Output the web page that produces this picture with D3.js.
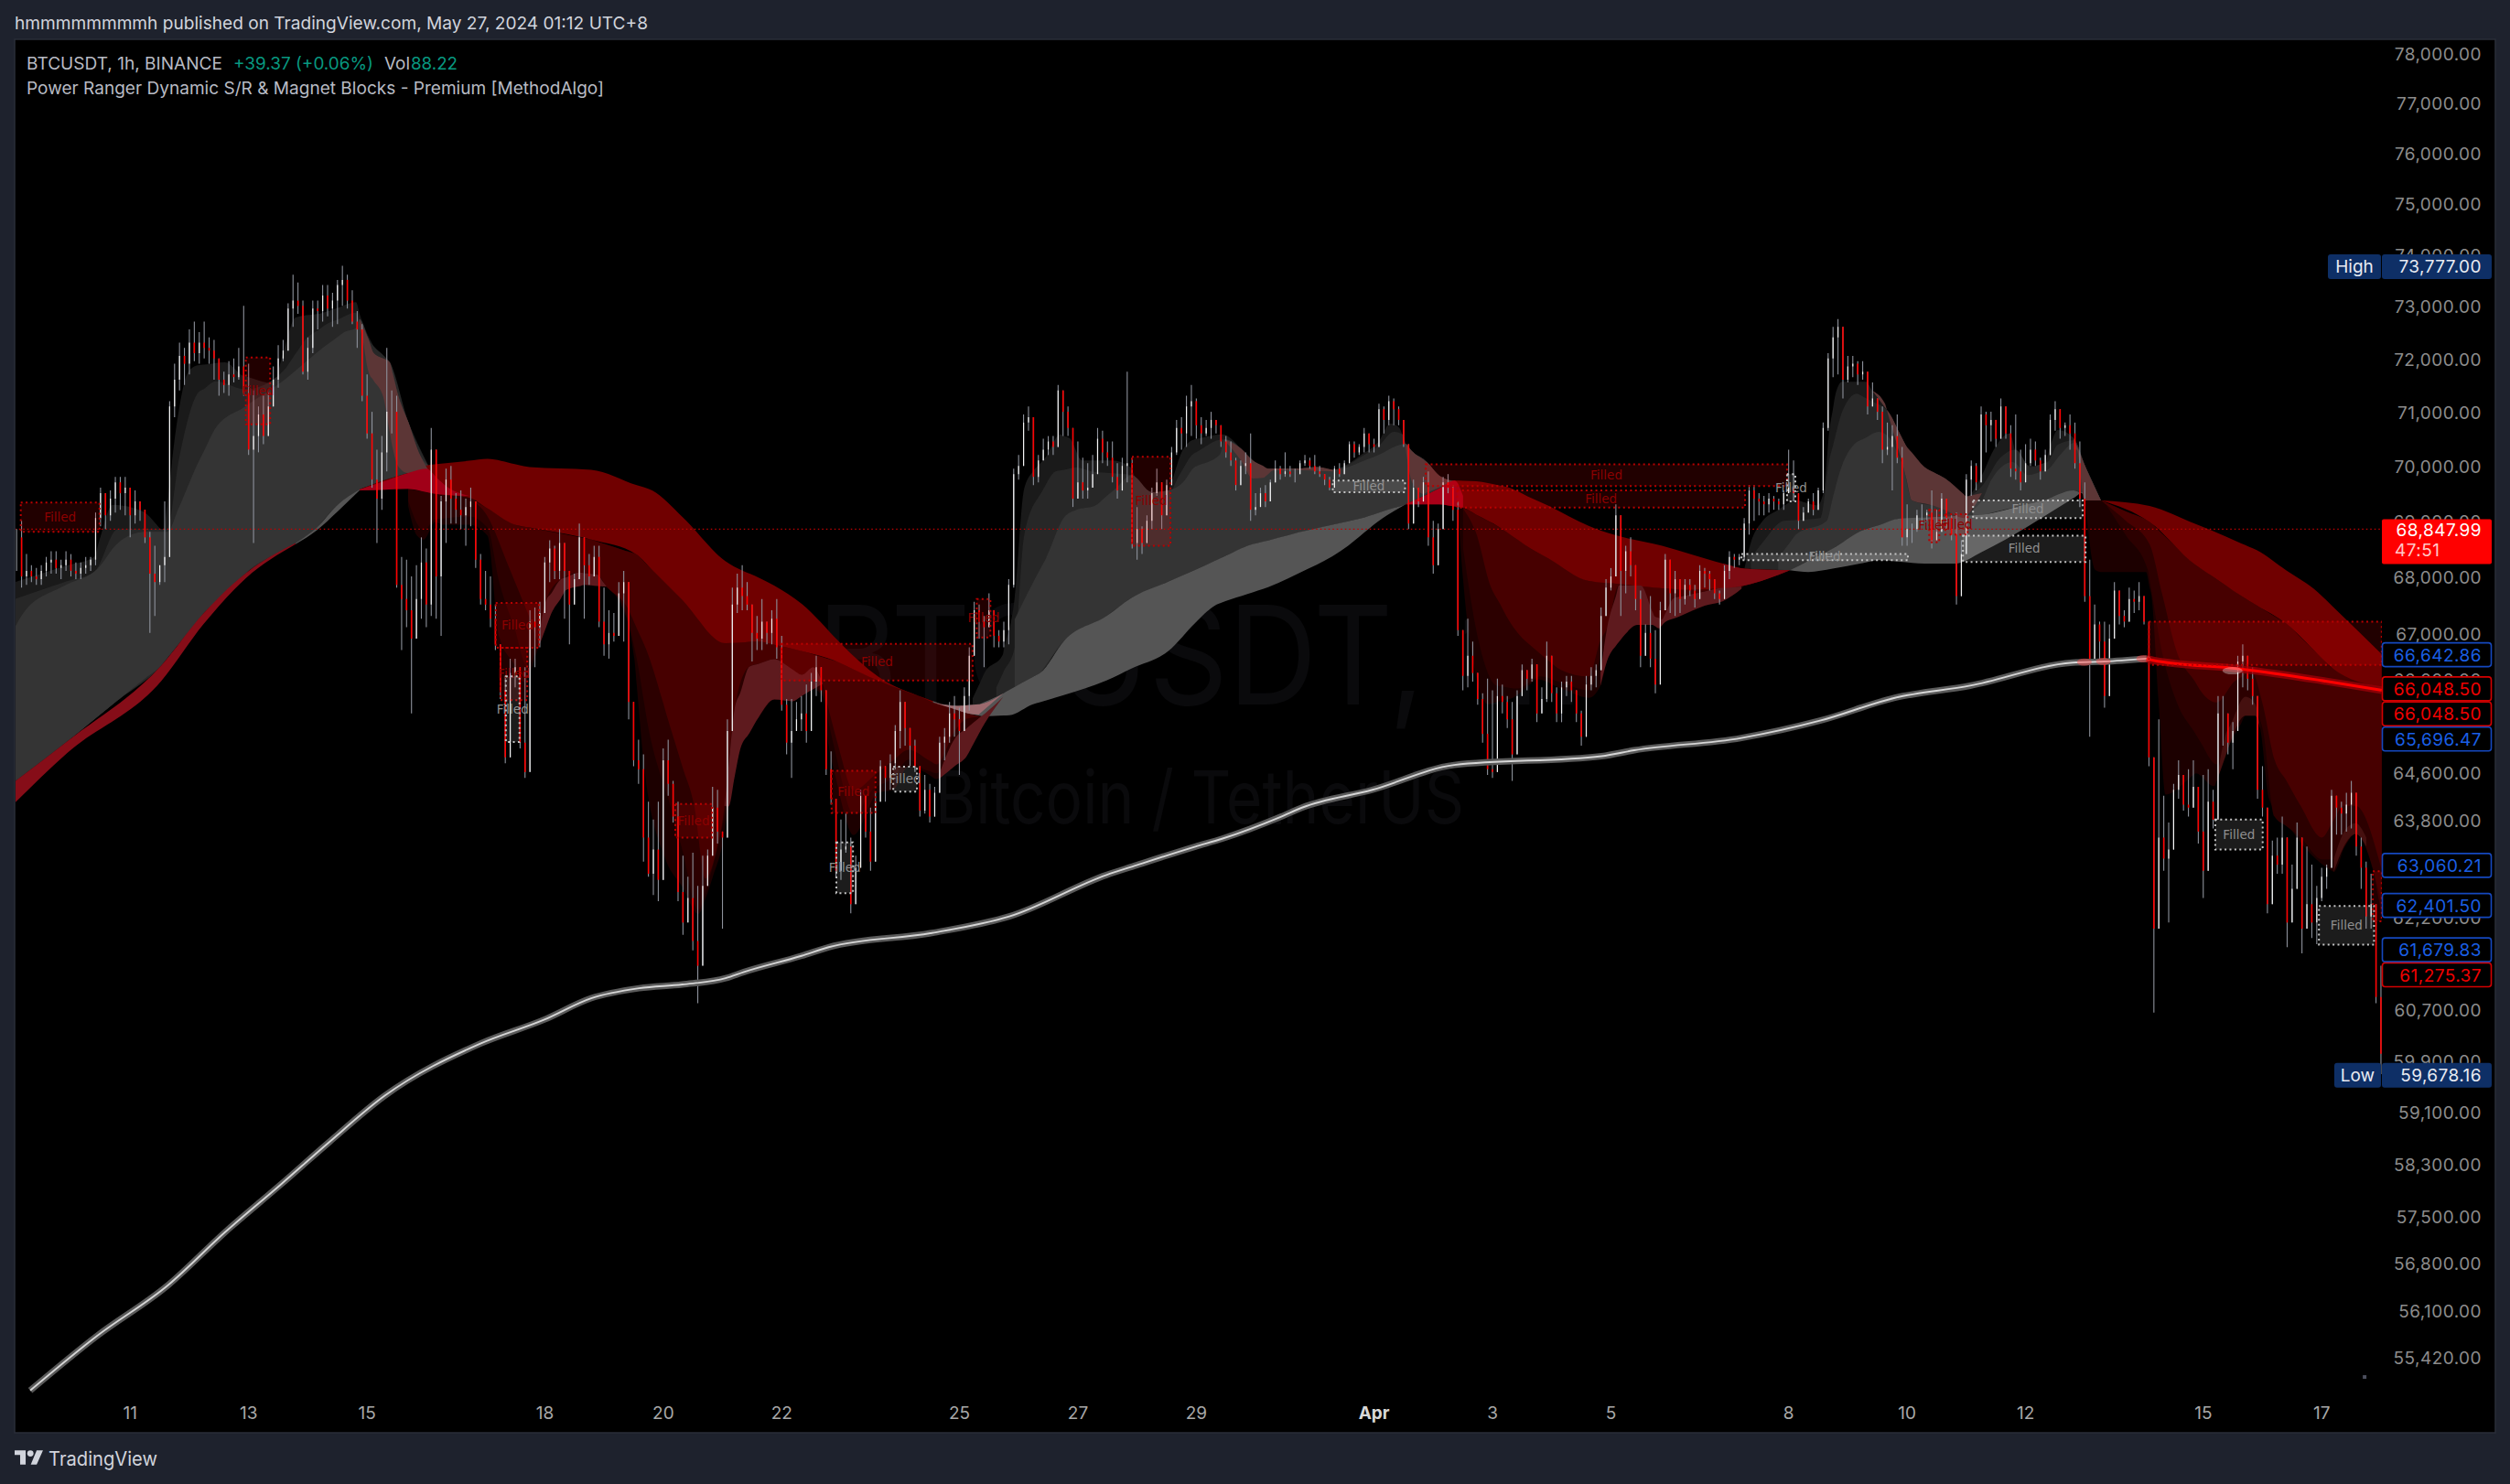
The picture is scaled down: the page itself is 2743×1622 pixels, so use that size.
<!DOCTYPE html>
<html><head><meta charset="utf-8">
<script src="https://cdn.jsdelivr.net/npm/d3@7"></script>
<style>html,body{margin:0;padding:0;background:#1e222d}svg{display:block}text{font-family:Inter,Roboto,"Noto Sans",sans-serif}</style>
</head><body><svg id="c" width="2743" height="1622"></svg>
<script>
// All prices are in thousands of USDT; all days count from Mar 1 (Apr 1 = 32).
const priceTicks=[78000,77000,76000,75000,74000,73000,72000,71000,70000,69000,68000,67000,66200,65400,64600,63800,63000,62200,61400,60700,59900,59100,58300,57500,56800,56100,55420];
const dayTicks=[11,13,15,18,20,22,25,27,29,32,34,36,39,41,43,46,48];
const dayLabels=['11','13','15','18','20','22','25','27','29','Apr','3','5','8','10','12','15','17'];
const candleStartDay=9.09, candleStepDays=1/12;
const candleHigh=[
68.85,69.0,68.4,68.2,68.15,68.2,68.35,68.45,68.45,68.3,68.45,68.4,68.25,68.25,68.35,68.35,69.15,69.6,69.35,69.55,
69.8,69.8,69.8,69.6,69.55,69.35,69.2,68.8,68.55,68.2,69.35,71.2,71.9,72.3,72.2,72.55,72.7,72.5,72.7,72.4,
72.35,72.0,71.75,71.95,72.0,72.2,73.0,71.9,71.4,71.1,71.3,71.35,71.85,72.25,72.35,73.05,73.6,73.45,73.1,72.4,
73.1,73.1,73.4,73.4,73.25,73.5,73.77,73.6,73.3,72.9,72.65,71.7,71.0,70.3,70.55,72.2,71.4,71.3,68.35,68.3,
68.0,68.2,68.7,68.5,70.7,70.2,69.45,69.95,70.0,69.5,69.55,69.4,69.6,69.1,68.4,68.1,68.0,67.5,66.75,66.25,
66.55,66.55,66.2,66.4,67.4,67.45,67.55,68.35,68.65,68.55,68.85,68.4,67.8,68.05,68.95,68.45,68.4,68.55,68.55,67.8,
67.4,67.35,67.9,68.1,67.0,65.8,65.15,64.9,64.1,63.8,64.1,65.0,65.15,64.45,64.1,63.2,62.85,63.25,62.7,63.2,
63.3,64.35,64.3,63.55,65.5,67.8,68.05,68.2,67.9,67.35,67.3,67.6,67.1,67.4,67.6,66.95,65.85,65.85,65.8,65.9,
66.1,66.3,66.6,66.35,65.85,64.95,63.9,63.8,63.9,63.5,63.2,64.3,64.2,64.0,64.25,64.8,64.6,64.9,65.4,66.0,
65.65,65.35,65.15,64.65,64.55,64.4,64.35,65.2,65.35,65.8,65.9,65.7,66.05,66.75,67.55,67.5,67.3,67.7,67.3,67.05,
67.2,67.95,69.95,70.2,70.95,71.1,70.65,70.2,70.5,70.55,70.55,71.5,71.2,71.1,70.65,70.45,70.15,70.05,70.2,70.7,
70.65,70.45,70.45,70.05,70.15,71.75,70.15,69.25,68.9,69.1,69.6,69.95,69.6,69.75,70.35,70.85,70.9,71.3,71.5,71.25,
70.9,70.85,71.0,70.85,70.75,70.55,70.45,70.15,70.1,70.25,70.6,69.5,69.6,69.65,69.75,70.1,70.0,70.25,70.0,69.95,
70.1,70.2,70.15,70.2,70.0,69.85,69.8,70.0,70.05,70.1,70.45,70.45,70.4,70.7,70.6,70.5,71.15,71.1,71.3,71.25,
71.1,70.8,70.35,69.75,69.6,69.8,69.9,69.0,68.95,69.8,69.85,69.65,69.35,66.9,67.25,66.85,66.25,65.95,66.2,66.0,
66.2,66.1,65.9,65.8,66.0,66.45,66.35,66.55,66.15,66.05,66.85,66.55,66.05,66.15,66.25,66.25,65.9,65.65,66.25,66.4,
66.45,67.45,67.95,68.15,69.3,68.5,68.55,68.7,68.1,67.75,67.15,67.65,67.05,67.55,68.4,68.15,68.1,67.8,67.95,67.95,
67.85,68.2,68.15,68.1,67.85,67.75,68.2,68.45,68.4,68.4,69.05,69.65,69.65,69.5,69.45,69.5,69.45,69.4,69.55,70.3,
70.1,69.35,69.25,69.4,69.5,69.6,70.8,72.1,72.6,72.75,71.95,72.05,72.05,71.95,71.95,71.6,71.55,71.25,71.1,70.8,
70.75,70.95,70.35,69.3,68.95,69.2,69.3,69.2,69.55,69.2,69.5,69.2,69.1,69.15,68.65,69.85,70.1,70.05,71.1,71.0,
71.0,70.8,71.25,71.0,70.75,70.95,70.3,70.4,70.5,70.45,70.15,70.3,70.95,71.2,70.95,70.8,70.95,70.8,70.45,69.7,
68.3,67.5,67.2,67.2,67.15,67.9,67.5,67.4,67.8,67.75,67.9,67.45,67.2,64.85,65.5,64.2,63.75,64.4,64.8,64.5,
64.65,64.8,64.35,64.55,64.65,64.3,65.9,65.9,65.55,65.45,66.6,66.8,66.6,66.4,65.85,64.7,63.6,63.45,63.5,63.85,
63.4,63.05,63.75,63.45,63.35,63.05,62.7,63.0,63.05,64.3,64.2,64.1,64.25,64.45,63.9,63.5,63.1,62.9,61.6,61.4];
const candleLow=[
68.1,67.8,67.85,67.9,67.85,67.85,68.0,68.05,68.05,67.95,68.1,68.0,67.95,67.95,68.05,68.1,68.2,68.9,68.85,69.0,
69.15,69.2,69.1,68.7,68.95,69.0,68.6,67.0,67.3,67.85,67.9,68.35,70.9,71.4,71.5,71.7,71.95,71.9,72.0,71.9,
71.6,71.3,71.35,71.3,71.55,71.6,71.3,70.2,68.6,70.25,70.4,70.65,71.15,71.45,71.95,72.2,72.6,72.85,71.7,71.6,
72.1,72.55,72.7,72.8,72.6,72.65,73.0,72.95,72.65,72.2,71.2,70.5,69.6,68.6,69.2,69.9,70.6,67.8,66.7,67.1,
65.6,66.9,67.25,67.1,67.3,67.25,66.95,68.6,68.95,68.95,68.85,68.55,68.9,68.15,67.5,67.4,67.1,66.7,65.85,64.75,
66.1,66.05,65.0,64.5,66.4,66.4,66.75,67.75,67.9,67.95,67.95,67.25,66.8,67.7,68.15,67.25,67.85,68.0,67.1,66.6,
66.55,66.85,67.25,66.85,65.5,64.7,64.4,63.1,62.85,62.55,62.45,64.0,64.2,63.75,62.45,61.9,62.2,61.65,60.8,61.7,
62.7,63.4,63.4,62.0,63.9,65.7,67.35,67.4,67.4,66.5,66.7,66.7,66.8,66.8,66.55,65.65,64.9,64.5,65.3,65.3,
65.1,65.8,65.9,65.8,64.55,64.05,62.85,62.8,63.25,62.25,62.5,63.5,63.5,62.95,63.75,64.1,64.1,64.3,64.65,65.0,
65.05,64.7,64.6,63.85,63.9,63.75,64.0,64.5,64.8,65.1,65.2,64.55,65.35,65.65,66.6,66.9,66.4,67.2,66.75,66.75,
66.75,66.8,67.8,69.75,70.3,70.65,69.65,69.7,70.2,70.2,70.2,70.65,70.55,70.55,69.25,69.45,69.4,69.4,69.75,70.0,
70.05,70.0,69.7,69.4,69.8,69.7,68.5,68.3,68.4,68.6,68.85,69.45,68.85,69.3,69.7,70.2,70.3,70.35,70.55,70.5,
70.4,70.55,70.5,70.6,70.35,70.15,70.0,69.55,69.7,69.85,69.0,69.1,69.3,69.25,69.35,69.7,69.75,69.8,69.8,69.7,
69.95,70.0,69.95,69.85,69.8,69.65,69.55,69.7,69.8,69.85,70.1,70.15,70.2,70.25,70.25,70.25,70.6,70.6,70.75,70.75,
70.75,70.35,68.85,69.15,69.25,69.35,68.55,68.05,68.45,69.3,69.5,69.0,66.95,66.0,66.05,66.15,65.75,65.1,64.55,64.5,
65.35,65.6,65.35,64.45,65.7,66.0,66.0,66.15,65.45,65.65,65.8,65.8,65.45,65.45,65.9,65.8,65.45,65.05,65.5,66.0,
66.05,66.4,67.4,67.75,68.5,67.3,67.7,68.0,67.4,66.4,66.75,66.4,65.95,66.5,67.65,67.35,67.3,67.35,67.5,67.65,
67.45,67.65,67.8,67.75,67.6,67.5,67.65,67.95,68.15,68.2,68.3,68.75,69.0,69.1,69.1,69.15,69.2,69.2,69.2,69.5,
69.35,68.85,69.0,69.2,69.1,69.25,69.5,70.65,71.65,71.7,71.25,71.55,71.65,71.5,71.6,70.95,71.15,70.85,70.05,70.2,
69.55,70.05,68.55,68.55,68.6,68.8,68.95,69.0,68.5,68.65,69.05,68.85,68.65,67.5,68.2,69.2,69.45,69.55,70.35,70.25,
70.45,70.35,70.55,70.5,69.8,69.75,69.55,69.95,70.0,70.0,69.75,70.0,70.45,70.65,70.5,70.55,70.3,69.95,69.25,67.55,
65.2,66.65,66.5,65.7,66.65,67.0,67.15,67.1,67.3,67.35,67.4,67.15,64.7,60.65,62.0,62.95,62.1,63.9,64.15,63.95,
63.85,64.1,63.4,62.5,63.85,63.65,63.85,65.05,64.9,64.65,65.85,66.05,66.0,65.75,64.15,63.85,62.25,62.6,62.9,62.9,
61.7,62.45,62.9,61.6,62.1,61.85,61.75,62.45,62.65,63.0,63.55,63.55,63.6,63.65,63.2,62.65,62.0,62.0,60.8,59.68];
const candleClose=[
68.7,68.0,68.1,68.0,67.95,68.1,68.25,68.3,68.15,68.2,68.3,68.1,68.05,68.15,68.2,68.3,69.05,69.5,69.1,69.4,
69.7,69.5,69.6,69.1,69.35,69.2,68.7,68.05,67.9,68.2,68.35,71.1,71.6,72.05,71.9,72.3,72.1,72.3,72.2,72.15,
72.0,71.6,71.5,71.7,71.65,71.85,71.35,70.3,70.55,70.95,70.55,71.1,71.6,72.0,72.15,72.95,73.1,73.0,71.75,72.2,
72.95,72.9,73.2,72.95,73.1,73.4,73.5,73.1,72.7,72.55,71.3,70.6,69.75,69.4,70.25,71.0,71.0,67.85,67.6,67.4,
66.9,67.6,68.25,67.5,70.3,68.0,69.35,69.75,69.4,69.2,69.1,69.25,69.35,68.3,67.6,67.5,67.25,66.8,66.0,64.85,
66.3,66.4,65.1,64.6,67.2,67.1,67.35,68.25,68.5,68.1,68.6,68.1,67.5,67.95,68.7,68.2,68.0,68.35,67.2,66.8,
67.0,66.95,67.7,67.9,65.8,64.8,64.65,63.5,62.9,63.3,62.8,64.8,64.4,63.85,62.6,62.1,62.5,61.8,61.4,62.7,
63.2,64.0,63.6,63.5,65.3,67.5,67.8,67.65,67.5,67.0,66.9,67.2,67.0,67.25,66.75,65.75,65.1,65.3,65.5,65.6,
65.3,66.15,66.4,66.0,64.65,64.15,62.95,63.3,63.35,62.4,63.0,64.2,63.6,63.1,64.1,64.7,64.5,64.75,65.3,65.8,
65.35,65.05,64.7,63.95,64.3,63.85,64.25,65.1,65.2,65.6,65.5,65.3,65.9,66.6,67.4,67.2,67.1,67.4,66.95,66.85,
67.05,67.85,69.85,70.0,70.8,70.9,69.8,70.1,70.3,70.45,70.35,71.4,71.0,70.7,69.4,69.7,69.55,69.6,69.85,70.5,
70.25,70.15,69.8,69.55,70.0,70.05,68.6,68.85,68.6,69.0,69.5,69.7,69.1,69.65,70.25,70.7,70.6,71.1,71.2,70.75,
70.6,70.7,70.85,70.75,70.45,70.25,70.1,69.65,70.0,70.05,69.2,69.25,69.5,69.35,69.7,69.95,69.85,69.9,69.85,69.85,
70.05,70.1,70.0,69.9,69.85,69.75,69.6,69.95,69.85,70.05,70.4,70.25,70.35,70.6,70.4,70.35,71.05,70.85,71.2,71.05,
70.85,70.4,68.95,69.6,69.35,69.7,68.7,68.2,68.85,69.7,69.6,69.2,67.05,66.25,66.6,66.3,65.85,65.25,64.65,64.6,
65.9,65.8,65.5,64.9,65.9,66.35,66.2,66.45,65.6,65.85,66.6,65.95,65.6,66.05,66.15,66.0,65.6,65.2,66.1,66.25,
66.35,67.3,67.8,68.0,69.1,68.1,68.45,68.2,67.6,66.6,67.0,66.55,66.1,67.4,68.3,67.7,67.95,67.6,67.85,67.75,
67.6,68.1,68.05,67.95,67.7,67.6,68.1,68.35,68.3,68.35,68.95,69.55,69.4,69.35,69.3,69.4,69.35,69.3,69.5,69.6,
69.5,69.0,69.15,69.35,69.2,69.55,70.7,72.0,72.4,72.6,71.6,71.85,71.9,71.7,71.75,71.1,71.25,71.0,70.3,70.35,
70.55,70.15,68.7,68.85,68.85,69.1,69.1,69.15,68.65,68.8,69.4,69.05,68.75,67.65,68.4,69.75,70.0,69.7,70.95,70.75,
70.85,70.5,71.1,70.6,69.95,69.9,69.7,70.05,70.3,70.1,69.9,70.2,70.85,71.05,70.7,70.75,70.6,70.05,69.4,67.65,
66.5,67.15,66.85,65.9,66.9,67.75,67.3,67.2,67.6,67.55,67.65,67.2,64.85,62.0,63.5,63.15,63.3,64.3,64.55,64.05,
64.0,64.35,63.6,62.95,64.1,63.8,65.6,65.6,65.1,65.3,66.5,66.6,66.2,65.9,64.3,64.0,62.4,63.2,63.05,63.5,
62.1,62.65,63.5,62.0,62.4,62.1,62.5,62.85,63.0,64.2,64.0,63.9,64.05,64.25,63.35,63.0,62.2,62.4,60.9,60.0];

const bandUpper=[[9.06,64.44],[9.94,65.12],[11.53,66.43],[12.25,67.35],[12.96,68.06],[13.8,68.6],[14.16,68.88],[14.51,69.29],[14.88,69.57],[15.3,69.74],[15.7,69.87],[16.07,70.02],[17.04,70.13],[17.75,69.98],[18.79,69.93],[19.82,69.55],[20.33,69.07],[21.06,68.27],[21.88,67.84],[22.35,67.51],[23.01,66.81],[23.63,66.24],[24.56,65.79],[24.99,65.73],[25.35,65.76],[25.75,65.95],[26.37,66.3],[26.78,66.87],[27.49,67.3],[27.91,67.62],[28.99,68.12],[29.87,68.55],[30.89,68.83],[31.77,69.04],[32.54,69.3],[32.91,69.48],[33.37,69.73],[33.73,69.72],[34.24,69.62],[34.96,69.27],[35.63,68.91],[36.05,68.75],[36.87,68.55],[37.38,68.39],[37.9,68.23],[38.26,68.14],[39.03,68.11],[39.75,68.5],[40.26,68.83],[40.88,69.04],[42.27,69.11],[43.31,69.37],[43.82,69.55],[44.28,69.37],[45.1,69.27],[46.14,68.83],[46.91,68.47],[47.94,67.72],[49.02,66.63]];
const bandLower=[[9.06,64.08],[9.94,64.92],[11.53,66.16],[12.25,67.16],[12.96,67.97],[13.8,68.58],[14.16,68.83],[14.51,69.17],[14.88,69.55],[15.7,69.58],[16.22,69.48],[16.73,69.42],[17.5,68.93],[18.79,68.66],[19.56,68.39],[20.33,67.58],[21.06,66.82],[21.63,66.85],[22.35,66.68],[22.96,66.49],[23.63,66.17],[24.51,65.83],[25.15,65.6],[25.41,65.55],[25.85,65.57],[26.25,65.76],[26.78,65.92],[27.49,66.17],[28.53,66.68],[28.99,67.18],[29.3,67.47],[29.5,67.56],[30.22,67.81],[31.04,68.21],[31.57,68.55],[32.08,68.99],[32.54,69.3],[33.11,69.3],[33.51,69.24],[34.13,68.88],[34.65,68.5],[35.63,67.92],[36.87,67.79],[37.38,67.76],[37.95,67.79],[38.26,67.84],[39.03,68.11],[39.34,68.08],[39.75,68.14],[40.53,68.29],[41.3,68.23],[41.81,68.23],[42.27,68.44],[43.05,68.9],[43.98,69.52],[44.28,69.37],[45.1,68.98],[45.87,68.21],[46.64,67.66],[47.41,67.16],[48.19,66.38],[49.02,66.05]];
const bandPhaseEdges=[9.06,13.8,14.88,24.56,32.54,39.03,44.28,49.02];
const bandPhaseKinds=['ribbon','bull','bear','bull','bear','bull','bear'];

const bullFastA=[[9.06,67.9],[10.4,68.35],[10.49,68.66],[10.71,69.29],[11.22,69.17],[11.57,68.8],[11.63,69.29],[11.79,70.75],[11.99,71.75],[12.15,71.87],[12.61,71.93],[12.92,71.67],[13.43,71.53],[13.58,72.07],[13.8,72.78],[14.2,72.85],[14.82,73.07],[14.88,72.85],[15.54,71.28],[15.7,70.82],[16.04,69.93]];
const bullMidA=[[9.06,67.6],[10.4,68.08],[10.8,68.85],[11.63,68.85],[11.83,70.12],[12.15,71.35],[12.45,71.57],[12.96,71.42],[13.58,71.75],[14.0,72.4],[14.35,72.67],[14.82,72.87],[15.03,72.37],[15.39,71.93],[15.7,70.82],[16.04,69.93]];
const bullSlowA=[[9.06,67.1],[9.21,67.36],[9.83,67.8],[10.45,68.13],[10.8,68.6],[11.26,68.8],[11.63,68.8],[11.83,69.24],[12.15,70.05],[12.45,70.7],[12.92,71.08],[13.69,71.67],[14.2,72.15],[14.62,72.5],[14.82,72.58],[14.88,72.75],[15.03,72.37],[15.12,72.1],[15.39,71.93],[15.54,71.28],[15.7,70.82],[15.9,70.2],[16.04,69.93]];
const bullTailB=[[29.76,70.32],[29.96,70.1],[30.22,69.95],[30.69,69.95],[31.04,69.98],[31.31,69.93]];
const bullTailB2=[[32.54,70.41],[32.65,70.27],[32.9,70.07],[33.11,69.82],[33.36,69.72]];
const bullFastB=[[25.23,65.86],[25.43,66.3],[25.74,66.62],[25.94,67.62],[26.1,69.58],[26.25,69.9],[26.47,70.17],[26.71,70.58],[26.87,70.51],[27.08,70.1],[27.59,70.1],[27.9,69.97],[28.1,69.52],[28.52,69.52],[28.57,69.65],[28.78,70.3],[28.98,70.49],[29.45,70.58],...bullTailB,[31.46,69.98],[31.66,70.1],[32.08,70.44],[32.28,70.78],[32.43,70.71],...bullTailB2];
const bullMidB=[[25.63,66.05],[25.94,66.74],[26.1,68.73],[26.36,69.46],[26.63,69.9],[26.98,69.97],[27.24,69.9],[27.91,69.83],[28.26,69.46],[28.52,69.46],[28.72,69.83],[28.98,70.24],[29.45,70.49],...bullTailB,[31.57,70.02],[32.08,70.36],[32.34,70.63],[32.49,70.58],...bullTailB2];
const bullSlowB=[[25.94,67.24],[26.25,67.89],[26.47,68.33],[26.78,69.07],[26.98,69.2],[27.29,69.27],[27.64,69.58],[27.91,69.83],[28.26,69.52],[28.52,69.55],[28.78,69.7],[28.98,69.98],[29.4,70.2],[29.49,70.49],...bullTailB,[31.57,69.98],[32.08,70.2],[32.39,70.37],...bullTailB2];
const bullTailC=[[40.69,71.0],[40.99,70.37],[41.3,69.98],[41.65,69.77],[42.01,69.44]];
const bullFastC=[[38.26,68.12],[38.37,68.61],[38.57,69.0],[38.83,69.2],[39.08,69.38],[39.49,69.28],[39.6,69.54],[39.7,70.71],[39.8,71.34],[39.91,71.56],[40.31,71.56],[40.42,71.39],...bullTailC,[42.27,69.83],[42.47,70.3],[42.74,70.6],[42.89,70.07],[43.31,69.98],[43.43,70.39],[43.55,70.66],[43.82,70.51],[44.02,69.98],[44.28,69.37]];
const bullMidC=[[38.37,68.33],[38.57,68.61],[38.92,69.0],[39.54,69.05],[39.7,70.15],[39.91,71.0],[40.16,71.34],[40.37,71.22],...bullTailC,[42.27,69.63],[42.58,70.15],[42.84,70.3],[43.09,69.98],[43.38,70.07],[43.55,70.39],[43.82,70.47],[44.02,69.98],[44.28,69.37]];
const bullSlowC=[[38.83,68.33],[39.13,68.75],[39.65,69.0],[39.85,69.82],[40.16,70.44],[40.53,70.63],[40.73,70.49],[40.93,70.03],[41.09,69.37],[41.46,69.27],[41.97,69.05],[42.08,69.17],[42.27,69.37],[42.43,69.75],[42.79,70.07],[43.05,69.83],[43.36,69.92],[43.62,70.24],[43.82,70.42],[44.02,69.98],[44.28,69.37]];

const bearDeepX=[[15.7,69.27],[15.85,68.73],[15.96,68.66],[16.16,68.98],[16.27,68.93],[16.73,68.93],[17.04,68.73],[17.24,66.93],[17.66,66.14],[17.9,66.74],[18.12,67.35],[18.37,67.76],[18.68,67.85],[18.99,67.82],[19.3,67.48],[19.52,66.54],[19.67,64.82],[20.03,63.18],[20.6,62.24],[20.72,62.49],[20.85,62.87],[21.0,63.37],[21.11,64.02],[21.31,65.0],[21.62,65.54],[21.88,65.84],[22.19,65.81],[22.4,65.95],[22.54,66.02],[22.7,65.89],[22.8,65.05],[22.91,64.55],[23.01,64.11],[23.22,63.54],[23.63,64.25],[23.89,64.3],[24.15,64.7],[24.4,64.61],[24.62,64.48],[24.93,64.83],[25.13,64.98],[25.44,65.6],[25.71,65.89]];
const bearMidX=[[15.7,69.36],[15.96,68.83],[16.16,69.03],[16.73,69.08],[17.04,68.87],[17.24,67.89],[17.71,66.41],[17.9,66.81],[18.12,67.38],[18.37,67.79],[18.68,67.89],[18.99,67.85],[19.3,67.55],[19.56,66.54],[19.76,65.33],[20.13,64.02],[20.6,62.3],[20.72,62.6],[20.85,63.04],[21.0,63.65],[21.17,64.49],[21.36,65.28],[21.64,65.76],[21.88,66.16],[22.19,66.08],[22.4,66.0],[22.54,66.05],[22.7,65.95],[22.8,65.44],[23.01,64.5],[23.22,63.88],[23.58,64.34],[23.89,64.5],[24.15,64.81],[24.4,64.65],[24.62,64.58],[24.93,65.05],[25.13,65.2],[25.44,65.57],[25.71,65.89]];
const bearSlowX=[[16.73,69.42],[17.04,69.08],[17.4,68.17],[17.75,67.27],[17.9,66.87],[18.02,67.55],[18.28,67.95],[18.59,68.07],[18.9,68.03],[19.05,67.82],[19.41,67.43],[19.72,66.71],[20.13,65.35],[20.53,64.03],[20.72,62.82],[20.9,63.27],[21.04,64.03],[21.21,65.67],[21.46,66.41],[21.88,66.54],[22.35,66.27],[22.54,66.4],[22.7,66.11],[22.8,65.67],[23.01,64.86],[23.22,64.29],[23.58,64.55],[23.89,64.8],[24.15,64.98],[24.62,64.73],[24.93,65.3],[25.13,65.51],[25.44,65.6],[25.71,65.89]];
const bearDeepY=[[33.42,69.22],[33.51,67.95],[33.73,66.24],[33.93,65.76],[34.35,65.87],[34.75,66.19],[35.17,66.03],[35.63,65.87],[35.83,66.08],[35.94,66.51],[36.1,66.79],[36.25,66.98],[36.45,67.14],[36.71,67.14],[36.82,67.08],[36.92,67.19],[37.18,67.3],[37.59,67.48],[37.9,67.56],[38.21,67.78],[38.3,67.95]];
const bearMidY=[[33.51,68.5],[33.77,66.87],[34.08,66.08],[34.44,66.03],[34.81,66.24],[35.17,66.13],[35.63,66.0],[35.83,66.56],[35.94,66.87],[36.14,67.42],[36.51,67.5],[36.74,67.19],[36.87,67.16],[37.07,67.42],[37.9,67.66],[38.21,67.82]];
const bearSlowY=[[33.51,69.22],[33.73,68.78],[33.97,67.84],[34.24,67.3],[34.55,66.87],[34.9,66.56],[35.17,66.35],[35.63,66.24],[35.83,66.87],[35.94,67.08],[36.14,67.84],[36.51,67.84],[36.74,67.3],[36.87,67.24],[37.07,67.62],[37.9,67.8],[38.21,67.82]];
const bearDeepZ=[[44.02,69.3],[44.18,68.12],[44.28,68.08],[45.04,68.08],[45.13,67.67],[45.26,65.68],[45.37,64.22],[45.88,64.58],[46.19,64.36],[46.3,64.73],[46.46,65.09],[46.72,65.56],[46.88,65.56],[46.97,65.33],[47.12,64.14],[47.43,63.72],[47.65,63.42],[48.01,63.06],[48.21,62.93],[48.42,63.42],[48.58,63.56],[48.78,63.35],[48.98,62.43],[49.02,62.22]];
const bearMidZ=[[44.33,69.35],[44.7,68.74],[45.07,68.12],[45.31,66.67],[45.56,65.79],[45.97,65.09],[46.23,64.73],[46.54,65.4],[46.82,65.73],[47.01,65.33],[47.21,63.85],[47.65,63.5],[48.01,63.14],[48.21,63.14],[48.58,63.56],[49.02,62.43]];
const bearSlowZ=[[44.28,69.37],[44.7,69.0],[45.1,68.58],[45.31,67.7],[45.56,66.67],[45.97,65.98],[46.23,65.79],[46.54,66.16],[46.82,66.33],[47.01,65.76],[47.21,64.81],[47.65,64.03],[48.01,63.5],[48.38,64.03],[48.58,64.03],[49.02,62.97]];

// overlay wedges: each is a top edge and a bottom edge
const brownAtop=[[14.88,72.75],[15.03,72.37],[15.12,72.1],[15.39,71.93],[15.54,71.28],[15.7,70.82],[15.9,70.2],[16.04,69.93]];
const brownAbot=[[14.88,72.6],[14.92,72.43],[15.03,71.75],[15.28,71.28],[15.44,70.32],[15.54,69.98],[15.7,69.87],[16.04,69.93]];
const brownBtop=[[29.49,70.49],...bullTailB];
const brownBbot=[[29.49,70.46],[29.76,70.1],[29.96,69.77],[30.13,69.78],[30.31,69.92],[30.69,69.93],[31.31,69.9]];
const brownCtop=bullTailB2;
const brownCbot=[[32.54,70.32],[32.65,69.7],[32.85,69.49],[33.36,69.72]];
const brownDtop=[[40.42,71.39],...bullTailC,[42.27,69.5]];
const brownDbot=[[40.42,71.39],[40.63,71.16],[40.93,70.03],[41.09,69.37],[41.46,69.27],[41.97,69.05],[42.08,69.17],[42.27,69.5]];
const brownEtop=[[43.82,70.51],[44.02,69.98],[44.28,69.37]];
const brownEbot=[[43.87,70.3],[44.0,69.37],[44.28,69.37]];
const pinkAtop=[[17.9,66.87],[18.02,67.55],[18.28,67.95],[18.59,68.07],[18.9,68.03],[19.05,67.82]];
const pinkAbot=[[17.9,66.74],[18.12,67.35],[18.37,67.76],[18.68,67.85],[18.99,67.82],[19.05,67.82]];
const pinkBtop=[[21.04,64.03],[21.21,65.67],[21.46,66.41],[21.88,66.54],[22.35,66.27],[22.54,66.4],[22.7,66.11]];
const pinkBbot=[[21.04,64.03],[21.11,64.02],[21.31,65.0],[21.62,65.54],[21.88,65.84],[22.19,65.81],[22.54,66.02],[22.7,66.11]];
const pinkCtop=[[24.66,64.55],[24.93,65.17],[25.24,65.44],[25.44,65.6],[25.75,65.89]];
const pinkCbot=[[24.66,64.48],[25.13,64.87],[25.44,65.44],[25.75,65.89]];
const pinkDtop=[[35.83,66.3],[35.94,67.08],[36.14,67.84],[36.51,67.84],[36.74,67.3],[36.87,67.24],[37.07,67.62],[37.9,67.8],[38.21,67.82]];
const pinkDbot=[[35.83,66.08],[35.94,66.51],[36.1,66.79],[36.25,66.98],[36.45,67.14],[36.71,67.14],[36.82,67.08],[36.92,67.19],[37.18,67.3],[37.59,67.48],[37.9,67.56],[38.21,67.78]];
const pinkEtop=[[46.23,64.43],[46.39,65.26],[46.72,65.89],[46.88,65.77],[46.97,65.33]];
const pinkEbot=[[46.23,64.43],[46.46,65.09],[46.72,65.56],[46.88,65.56],[46.97,65.33]];
const pinkFtop=[[48.21,63.14],[48.42,63.65],[48.58,63.74],[48.76,63.5]];
const pinkFbot=[[48.21,62.93],[48.42,63.42],[48.58,63.56],[48.76,63.35]];
const salmonTop=[[24.56,65.79],[24.98,65.73],[25.35,65.76],[25.75,65.95]];
const salmonBot=[[24.56,65.79],[25.15,65.6],[25.33,65.58],[25.75,65.95]];
const crimsonAtop=[[14.88,69.57],[15.3,69.72],[15.7,69.87],[16.0,69.95],[16.32,69.65],[16.73,69.45]];
const crimsonAbot=[[14.88,69.55],[15.7,69.58],[16.22,69.48],[16.73,69.45]];
const crimsonBtop=[[32.54,69.3],[32.91,69.48],[33.37,69.73],[33.51,69.45]];
const crimsonBbot=[[32.54,69.3],[33.11,69.3],[33.51,69.24]];
const crimsonCtop=[[37.9,68.23],[38.26,68.14],[39.03,68.11]];
const crimsonCbot=[[37.9,67.79],[38.26,67.84],[39.03,68.11]];

const smaWhite=[[9.32,54.93],[10.43,55.71],[11.65,56.47],[12.6,57.25],[13.54,57.97],[14.36,58.62],[15.3,59.34],[16.92,60.16],[18.0,60.54],[18.79,60.88],[19.6,61.04],[20.33,61.1],[21.06,61.2],[21.37,61.3],[22.34,61.56],[22.8,61.7],[24.54,61.93],[25.85,62.2],[27.49,62.88],[27.93,63.02],[28.99,63.35],[29.44,63.48],[30.44,63.85],[30.79,64.0],[31.98,64.3],[33.36,64.72],[35.85,64.87],[36.4,64.97],[38.21,65.18],[39.55,65.48],[40.8,65.87],[42.07,66.08],[43.8,66.48],[44.34,66.5],[45.05,66.55]];
const smaRed=[[45.05,66.55],[45.16,66.52],[46.64,66.37],[47.94,66.18],[49.02,66.0]];
const smaTouchRed=[[44.0,66.49],[44.32,66.5],[45.0,66.55]];
const smaTouchWhite=[[46.5,66.34]];

const boxKinds=['r','r','r','r','w','r','r','r','w','w','r','r','w','r','r','w','w','r','r','w','w','r','w','w','r'];
const boxStart=[9.16,12.96,17.18,17.26,17.35,20.21,22.0,22.85,23.89,22.93,25.3,27.92,31.31,32.88,33.41,38.98,38.21,41.38,41.65,42.12,41.95,45.09,46.21,47.96,48.87];
const boxEnd=[10.49,13.37,17.91,17.71,17.58,20.83,25.23,23.59,24.29,23.21,25.53,28.57,32.53,38.98,38.27,39.12,41.02,41.55,42.03,43.97,44.02,49.02,47.01,48.89,49.02];
const boxHigh=[69.33,72.02,67.53,66.74,66.24,64.06,66.81,64.62,64.69,63.42,67.6,70.17,69.73,70.03,69.55,69.85,68.4,69.2,69.12,69.37,68.73,67.2,63.8,62.37,62.94];
const boxLow=[68.8,70.77,66.74,65.83,65.11,63.5,66.17,63.91,64.27,62.58,66.92,68.55,69.52,69.63,69.24,69.35,68.29,68.61,68.75,69.05,68.26,66.44,63.3,61.74,62.12];
const boxLabelled=[1,1,1,1,1,1,1,1,1,1,1,1,1,1,1,1,1,1,1,1,1,0,1,1,0];

const tagPrices=[66642.86,66048.50,66048.50,65696.47,63060.21,62401.50,61679.83,61275.37];
const tagKinds=['b','r','r','b','b','b','b','r'];
const lastPrice=68847.99, countdown='47:51', highPrice=73777.00, lowPrice=59678.16;

const svg=d3.select('#c');
const x=d3.scaleLinear().domain([11,48]).range([141.8,2536.8]);
const y=d3.scaleLog().domain([55.42,78]).range([1482.7,58.2]);
const COL={bg:'#1e222d',edge:'#2a2e39'};
const fmt=d3.format(',.2f');

svg.append('rect').attr('width',2743).attr('height',1622).attr('fill',COL.bg);
svg.append('rect').attr('x',16).attr('y',43).attr('width',2711).attr('height',1523).attr('fill','#000').attr('stroke',COL.edge).attr('stroke-width',1.5);
const defs=svg.append('defs');
defs.append('clipPath').attr('id','plot').append('rect').attr('x',17).attr('y',44).attr('width',2586).attr('height',1520);
const plot=svg.append('g').attr('clip-path','url(#plot)');

// watermark
plot.append('text').attr('x',1311).attr('y',770).attr('text-anchor','middle').attr('font-size',150).attr('fill','#0a0a0c').attr('textLength',836).attr('lengthAdjust','spacingAndGlyphs').text('BTCUSDT, 1h');
plot.append('text').attr('x',1311).attr('y',900).attr('text-anchor','middle').attr('font-size',80).attr('fill','#0a0a0c').attr('textLength',578).attr('lengthAdjust','spacingAndGlyphs').text('Bitcoin / TetherUS');

const at=line=>d3.scaleLinear().domain(line.map(d=>d[0])).range(line.map(d=>d[1])).clamp(true);
const upper=at(bandUpper), lower=at(bandLower);
const knots=(...lines)=>Array.from(new Set(lines.flat().map(d=>d[0]))).sort((a,b)=>a-b);
const curve=d3.curveMonotoneX;
function between(fill,topFn,botFn,days){
  plot.append('path').datum(days).attr('fill',fill)
    .attr('d',d3.area().curve(curve).x(d=>x(d)).y0(d=>y(botFn(d))).y1(d=>y(topFn(d))));
}
function bullFill(line,fill){
  const f=at(line), a=line[0][0], b=line[line.length-1][0];
  const days=knots(line,bandUpper).filter(d=>d>=a&&d<=b);
  between(fill,d=>Math.max(f(d),upper(d)),upper,days);
}
function bearFill(line,fill){
  const f=at(line), a=line[0][0], b=line[line.length-1][0];
  const days=knots(line,bandLower).filter(d=>d>=a&&d<=b);
  between(fill,lower,d=>Math.min(f(d),lower(d)),days);
}
function wedge(top,bot,fill){
  const t=at(top), m=at(bot);
  const a=Math.min(top[0][0],bot[0][0]), b=Math.max(top[top.length-1][0],bot[bot.length-1][0]);
  between(fill,t,m,knots(top,bot).filter(d=>d>=a&&d<=b));
}
const G1='#1a1a1a',G2='#272727',G3='#343434',R1='#1c0000',R2='#2c0000',R3='#470000';
[[bullFastA,bullMidA,bullSlowA],[bullFastB,bullMidB,bullSlowB],[bullFastC,bullMidC,bullSlowC]].forEach(s=>{
  bullFill(s[0],G1); bullFill(s[1],G2); bullFill(s[2],G3);
});
[[bearDeepX,bearMidX,bearSlowX],[bearDeepY,bearMidY,bearSlowY],[bearDeepZ,bearMidZ,bearSlowZ]].forEach(s=>{
  bearFill(s[0],R1); bearFill(s[1],R2); bearFill(s[2],R3);
});
// band
const bandFill={ribbon:'#860d18',bull:'#555555',bear:'#700000'};
bandPhaseKinds.forEach((k,i)=>{
  const a=bandPhaseEdges[i],b=bandPhaseEdges[i+1];
  const days=knots(bandUpper,bandLower).filter(d=>d>=a&&d<=b);
  between(bandFill[k],upper,lower,days);
});
[[brownAtop,brownAbot],[brownBtop,brownBbot],[brownCtop,brownCbot],[brownDtop,brownDbot],[brownEtop,brownEbot]].forEach(p=>wedge(p[0],p[1],'#5c3636'));
[[pinkAtop,pinkAbot],[pinkBtop,pinkBbot],[pinkCtop,pinkCbot],[pinkDtop,pinkDbot]].forEach(p=>wedge(p[0],p[1],'#5e1a1e'));
[[pinkEtop,pinkEbot],[pinkFtop,pinkFbot]].forEach(p=>wedge(p[0],p[1],'#45100f'));
wedge(salmonTop,salmonBot,'#9c6a6e');
wedge(crimsonAtop,crimsonAbot,'#a00018');
wedge(crimsonBtop,crimsonBbot,'#a80018');
wedge(crimsonCtop,crimsonCbot,'#7c0a12');

// last price line
plot.append('line').attr('x1',x.range()[0]-130).attr('x2',2603).attr('y1',y(lastPrice/1000)).attr('y2',y(lastPrice/1000))
  .attr('stroke','#c00000').attr('stroke-width',1.2).attr('stroke-dasharray','1.5 3');

// candles
const candles=candleClose.map((c,i)=>{
  const o=i?candleClose[i-1]:c;
  return {d:candleStartDay+i*candleStepDays,o,c,h:Math.max(candleHigh[i],o,c),l:Math.min(candleLow[i],o,c)};
});
const gc=plot.append('g');
gc.selectAll('line.w').data(candles).join('line').attr('class','w')
  .attr('x1',d=>x(d.d)).attr('x2',d=>x(d.d)).attr('y1',d=>y(d.h)).attr('y2',d=>y(d.l))
  .attr('stroke','#8e929c').attr('stroke-width',1.1);
gc.selectAll('line.b').data(candles).join('line').attr('class','b')
  .attr('x1',d=>x(d.d)).attr('x2',d=>x(d.d)).attr('y1',d=>y(Math.max(d.o,d.c))).attr('y2',d=>y(Math.min(d.o,d.c)))
  .attr('stroke',d=>d.c>=d.o?'#f4f4f4':'#ff0000').attr('stroke-width',d=>d.c>=d.o?1.2:1.6);

// long average
const smaPath=d3.line().curve(curve).x(d=>x(d[0])).y(d=>y(d[1]));
plot.append('path').datum(smaWhite).attr('fill','none').attr('stroke','#5a5a5a').attr('stroke-width',7).attr('d',smaPath);
plot.append('path').datum(smaWhite).attr('fill','none').attr('stroke','#d6d6d6').attr('stroke-width',1.9).attr('d',smaPath);
plot.append('path').datum(smaRed).attr('fill','none').attr('stroke','#a00008').attr('stroke-width',8).attr('stroke-opacity',.75).attr('d',smaPath);
plot.append('path').datum(smaRed).attr('fill','none').attr('stroke','#ff0000').attr('stroke-width',3).attr('d',smaPath);
plot.selectAll('ellipse.tr').data(smaTouchRed).join('ellipse').attr('class','tr').attr('cx',d=>x(d[0])).attr('cy',d=>y(d[1])).attr('rx',8).attr('ry',4).attr('fill','rgba(255,70,70,.45)');
plot.selectAll('ellipse.tw').data(smaTouchWhite).join('ellipse').attr('class','tw').attr('cx',d=>x(d[0])).attr('cy',d=>y(d[1])).attr('rx',11).attr('ry',4).attr('fill','rgba(255,255,255,.32)');

// filled blocks
boxStart.forEach((s,i)=>{
  const red=boxKinds[i]==='r';
  const g=plot.append('g');
  g.append('rect').attr('x',x(s)).attr('y',y(boxHigh[i])).attr('width',x(boxEnd[i])-x(s)).attr('height',y(boxLow[i])-y(boxHigh[i]))
    .attr('fill',red?'rgba(255,0,0,.13)':'rgba(255,255,255,.11)')
    .attr('stroke',red?'#b80000':'#c4c4c4').attr('stroke-width',2).attr('stroke-dasharray','2 3.4');
  if(boxLabelled[i]) g.append('text').attr('x',x((s+boxEnd[i])/2)).attr('y',(y(boxHigh[i])+y(boxLow[i]))/2+4.5)
    .attr('text-anchor','middle').attr('font-size',13.5).attr('style','font-family:"DejaVu Sans"')
    .attr('fill',red?'#8c0000':'#8f8f8f').text('Filled');
});
plot.append('rect').attr('x',x(48.7)).attr('y',y(55.15)).attr('width',4).attr('height',4).attr('fill','#4a4d5c');

// axes
const yAxis=d3.axisRight(y).tickValues(priceTicks.map(p=>p/1000)).tickSize(0).tickPadding(0).tickFormat(d=>fmt(d*1000));
const gy=svg.append('g').attr('transform','translate(2712,1.5)').call(yAxis);
gy.select('.domain').remove();
gy.selectAll('text').attr('text-anchor','end').attr('fill','#8c8c8c').attr('font-size',19).attr('letter-spacing',.45).style('font-family','Inter');
const xAxis=d3.axisBottom(x).tickValues(dayTicks).tickSize(0).tickPadding(0).tickFormat((d,i)=>dayLabels[i]);
const gx=svg.append('g').attr('transform','translate(0,1537)').call(xAxis);
gx.select('.domain').remove();
gx.selectAll('text').attr('fill',d=>d===32?'#d8d8d8':'#a8a8a8').attr('font-size',19).attr('font-weight',d=>d===32?700:400).style('font-family','Inter');

// price tags
let prevBottom=-1e9;
tagPrices.map((p,i)=>({p,k:tagKinds[i]})).forEach(t=>{
  const cy=Math.max(y(t.p/1000)+1.5,prevBottom+13.5+.9); prevBottom=cy+13;
  const blue=t.k==='b';
  svg.append('rect').attr('x',2603.5).attr('y',cy-13).attr('width',119).attr('height',26).attr('rx',3)
    .attr('fill','#000').attr('stroke',blue?'#1548bf':'#d40000').attr('stroke-width',1.6);
  svg.append('text').attr('x',2712).attr('y',cy+7).attr('text-anchor','end').attr('font-size',19).attr('letter-spacing',.45)
    .attr('fill',blue?'#1a5fe6':'#f00000').text(fmt(t.p));
});
const lastY=y(lastPrice/1000);
svg.append('rect').attr('x',2603).attr('y',lastY-11).attr('width',120).attr('height',49).attr('rx',2).attr('fill','#ff0000');
svg.append('text').attr('x',2712).attr('y',lastY+8).attr('text-anchor','end').attr('font-size',19).attr('letter-spacing',.45).attr('fill','#fff').text(fmt(lastPrice));
svg.append('text').attr('x',2617).attr('y',lastY+30).attr('font-size',19).attr('letter-spacing',.45).attr('fill','#ffc9c9').text(countdown);
[['High',highPrice,2544],['Low',lowPrice,2551]].forEach(t=>{
  const cy=y(t[1]/1000)+1.2;
  svg.append('rect').attr('x',t[2]).attr('y',cy-13.5).attr('width',2602-t[2]).attr('height',27).attr('rx',3).attr('fill','#0e2f66');
  svg.append('rect').attr('x',2603).attr('y',cy-13.5).attr('width',120).attr('height',27).attr('rx',3).attr('fill','#0e2f66');
  svg.append('text').attr('x',(t[2]+2602)/2).attr('y',cy+7).attr('text-anchor','middle').attr('font-size',19).attr('fill','#e8ebf2').text(t[0]);
  svg.append('text').attr('x',2712).attr('y',cy+7).attr('text-anchor','end').attr('font-size',19).attr('letter-spacing',.45).attr('fill','#e8ebf2').text(fmt(t[1]));
});

// header, legend, footer
const T=(s,xx,yy,fs,fill,len)=>{const e=svg.append('text').attr('x',xx).attr('y',yy).attr('font-size',fs).attr('fill',fill).text(s);
  if(len) e.attr('textLength',len).attr('lengthAdjust','spacingAndGlyphs');return e;};
T('hmmmmmmmmh published on TradingView.com, May 27, 2024 01:12 UTC+8',16,32,19,'#d1d4dc',692);
T('BTCUSDT, 1h, BINANCE',29,75.5,18.5,'#b8bbc4',214);
T('+39.37 (+0.06%)',255,75.5,18.5,'#089981',153);
T('Vol',420,75.5,18.5,'#b8bbc4',28);
T('88.22',449,75.5,18.5,'#089981',51);
T('Power Ranger Dynamic S/R & Magnet Blocks - Premium [MethodAlgo]',29,102.5,18.5,'#b8bbc4',631);
const logo=svg.append('g').attr('transform','translate(16,1580) scale(.86)').attr('fill','#d1d4dc');
logo.append('path').attr('d','M14 6H0v6h7v12h7V6Z');
logo.append('path').attr('d','M28 24h-7.5L28 6h8l-8 18Z');
logo.append('circle').attr('cx',20).attr('cy',10).attr('r',4);
T('TradingView',53,1602,21,'#d1d4dc',119);
</script></body></html>
